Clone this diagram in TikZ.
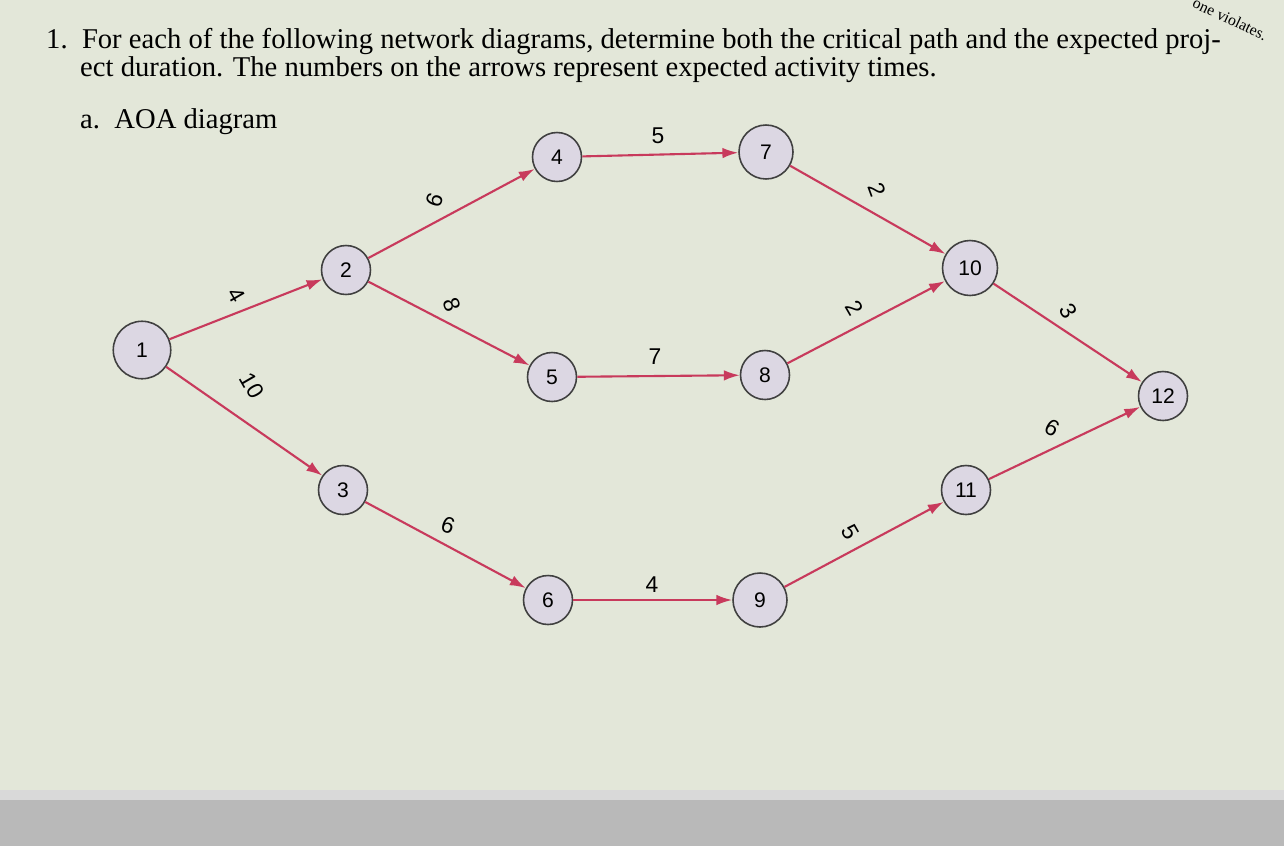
\documentclass[tikz,border=0pt]{standalone}
\usepackage{fontspec}
\setmainfont{Liberation Serif}
\newfontfamily\lab{Liberation Sans}
\usetikzlibrary{arrows.meta}
\definecolor{bg}{HTML}{E3E7D9}
\definecolor{nodefill}{HTML}{DCD7E3}
\definecolor{edge}{HTML}{C83A5C}
\begin{document}
\begin{tikzpicture}[x=0.02cm,y=-0.02cm,
  ev/.style={circle,draw=black!75,line width=0.9pt,fill=nodefill,minimum size=0.98cm,inner sep=0pt,font=\lab\fontsize{12}{12}\selectfont},
  act/.style={draw=edge,line width=1.2pt,-{Latex[length=9pt,width=6pt]}},
  wt/.style={font=\lab\fontsize{13}{13}\selectfont}]
\useasboundingbox (0,0) rectangle (1284,846);
\fill[bg] (0,0) rectangle (1284,846);
\fill[gray!55] (0,790) rectangle (1284,846);
\fill[gray!30] (0,790) rectangle (1284,800);
\node[anchor=west,font=\fontsize{16.3}{17}\selectfont] (h1) at (40,42) {1.\ \ For each of the following network diagrams, determine both the critical path and the expected proj-};
\node[anchor=west,font=\fontsize{16.3}{17}\selectfont] (h2) at (74,70) {ect duration. The numbers on the arrows represent expected activity times.};
\node[anchor=west,font=\fontsize{16.3}{17}\selectfont] (h3) at (74,122) {a.\ \ AOA diagram};
\node[rotate=-25,font=\fontsize{9}{9}\selectfont,inner sep=0pt] (h4) at (1230,19) {one violates.};
\node[ev,minimum size=1.15cm] (n1) at (142,350) {1};
\node[ev] (n2) at (346,270) {2};
\node[ev] (n3) at (343,490) {3};
\node[ev] (n4) at (557,157) {4};
\node[ev] (n5) at (552,377) {5};
\node[ev] (n6) at (548,600) {6};
\node[ev,minimum size=1.08cm] (n7) at (766,152) {7};
\node[ev] (n8) at (765,375) {8};
\node[ev,minimum size=1.08cm] (n9) at (760,600) {9};
\node[ev,minimum size=1.1cm] (n10) at (970,268) {10};
\node[ev] (n11) at (966,490) {11};
\node[ev] (n12) at (1163,396) {12};
\draw[act] (n1) -- (n2);
\draw[act] (n1) -- (n3);
\draw[act] (n2) -- (n4);
\draw[act] (n2) -- (n5);
\draw[act] (n3) -- (n6);
\draw[act] (n4) -- (n7);
\draw[act] (n5) -- (n8);
\draw[act] (n6) -- (n9);
\draw[act] (n7) -- (n10);
\draw[act] (n8) -- (n10);
\draw[act] (n9) -- (n11);
\draw[act] (n10) -- (n12);
\draw[act] (n11) -- (n12);
\node[wt,rotate=-60] (w1) at (236,295) {4};
\node[wt,rotate=-60] (w2) at (252,386) {10};
\node[wt,rotate=-110] (w3) at (435,200) {9};
\node[wt,rotate=-70] (w4) at (452,305) {8};
\node[wt,rotate=-20] (w5) at (448,525) {6};
\node[wt] (w6) at (658,136) {5};
\node[wt] (w7) at (655,357) {7};
\node[wt] (w8) at (652,585) {4};
\node[wt,rotate=-70] (w9) at (877,190) {2};
\node[wt,rotate=-60] (w10) at (855,308) {2};
\node[wt,rotate=-60] (w11) at (850,532) {5};
\node[wt,rotate=-60] (w12) at (1068,311) {3};
\node[wt,rotate=-30] (w13) at (1052,428) {6};
\end{tikzpicture}
\end{document}
